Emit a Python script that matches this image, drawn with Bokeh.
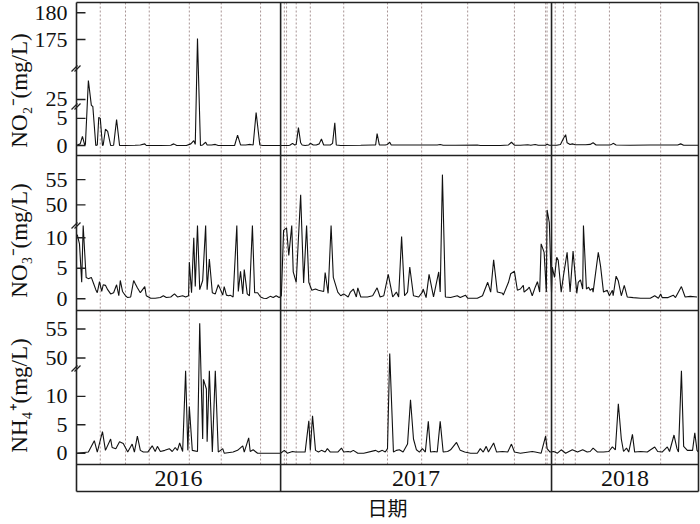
import numpy as np
import pandas as pd
from bokeh.plotting import figure
from bokeh.models import Range1d, ColumnDataSource
from bokeh.embed import file_html
from bokeh.resources import INLINE
from bokeh.core.properties import value

# ---------------- data ----------------
START = "2016-04-01"   # day 0 of the record
END = "2018-07-18"

# NO2- (mg/L): sampling day (days since START) and concentration
no2_day = [1, 5, 8, 11, 12, 16, 20, 22, 26, 28, 30, 32, 35, 36, 39, 42, 46, 50, 54, 58,
           66, 79, 86, 92, 94, 113, 127, 131, 135, 148, 154, 158, 160, 163, 167, 170, 174, 176,
           182, 187, 191, 213, 217, 221, 228, 234, 238, 242, 247, 251, 275, 286, 288, 291, 294,
           296, 299, 302, 304, 308, 313, 315, 319, 323, 327, 330, 333, 342, 345, 348, 350, 356,
           383, 399, 403, 405, 408, 416, 419, 422, 424, 436, 450, 463, 486, 490, 494, 511, 540,
           544, 571, 582, 586, 590, 598, 608, 612, 618, 622, 632, 634, 637, 647, 652, 656, 659,
           661, 665, 668, 672, 686, 692, 696, 700, 718, 721, 723, 727, 746, 773, 800, 810, 814,
           818, 838]
no2_val = [0.1, 0.3, 1.7, 0.1, 0.2, 28.5, 23.9, 23.7, 0.0, 0.1, 5.2, 5.0, 0.0, 0.1, 3.0, 2.6, 0.0, 0.05, 4.8, 0.0,
           0.0, 0.05, 0.1, 0.3, 0.0, 0.0, 0.05, 0.3, 0.0, 0.0, 0.3, 0.9, 0.2, 175.2, 0.0, 0.1, 0.6, 0.1,
           0.1, 0.2, 0.0, 0.0, 1.9, 0.1, 0.1, 0.2, 0.1, 6.1, 0.1, 0.0, 0.0, 0.0, 0.1, 0.4, 0.1,
           0.2, 3.3, 0.5, 0.1, 0.0, 0.1, 0.4, 0.1, 0.1, 0.3, 1.2, 0.1, 0.1, 0.4, 4.2, 0.1, 0.0,
           0.05, 0.1, 0.1, 2.2, 0.1, 0.1, 0.2, 0.6, 0.1, 0.1, 0.1, 0.1, 0.1, 0.2, 0.05, 0.05, 0.1,
           0.0, 0.0, 0.1, 0.6, 0.05, 0.05, 0.15, 0.05, 0.2, 0.05, 0.05, 0.25, 0.05, 0.05, 0.2, 1.3, 2.0,
           0.5, 0.2, 0.3, 0.15, 0.15, 0.2, 0.5, 0.1, 0.1, 0.2, 0.4, 0.1, 0.05, 0.1, 0.1, 0.1, 0.3,
           0.05, 0.05]

# NO3- (mg/L)
no3_day = [1, 4, 7, 9, 12, 13, 16, 20, 23, 26, 28, 31, 34, 36, 39, 42, 46, 50, 54, 57,
           59, 62, 66, 69, 73, 77, 79, 82, 86, 89, 92, 94, 97, 100, 106, 113, 117, 121, 127, 132,
           136, 143, 147, 151, 152, 155, 158, 160, 163, 166, 170, 174, 176, 179, 183, 187, 191, 194, 197, 199,
           202, 205, 207, 211, 216, 218, 221, 224, 226, 230, 233, 237, 240, 244, 248, 252, 256, 261, 265, 269,
           273, 276, 279, 283, 286, 290, 292, 296, 302, 306, 310, 313, 317, 322, 326, 333, 335, 339, 343, 346,
           352, 356, 360, 366, 369, 373, 377, 379, 383, 392, 399, 405, 409, 414, 420, 426, 431, 434, 438, 442,
           446, 449, 454, 461, 466, 467, 471, 475, 481, 488, 490, 493, 497, 504, 513, 517, 524, 527, 540, 547,
           554, 558, 562, 567, 574, 575, 582, 585, 590, 594, 598, 602, 603, 608, 610, 614, 618, 621, 624, 626,
           630, 633, 634, 637, 640, 641, 644, 647, 649, 653, 656, 661, 665, 669, 674, 676, 679, 682, 683, 687,
           690, 692, 695, 696, 703, 706, 710, 715, 718, 722, 723, 727, 730, 734, 738, 742, 750, 760, 773, 779,
           784, 787, 789, 797, 804, 807, 815, 820, 827, 836]
no3_val = [10.5, 9.0, 2.7, 12.2, 5.5, 3.5, 3.3, 3.5, 2.5, 1.5, 1.0, 2.8, 1.2, 2.3, 2.2, 1.5, 0.8, 1.0, 2.3, 0.5,
           3.0, 1.2, 0.5, 0.2, 0.3, 3.0, 2.5, 1.8, 1.0, 1.5, 2.0, 0.5, 0.3, 0.1, 0.1, 0.2, 0.5, 0.2, 0.3, 0.8,
           0.3, 0.5, 0.3, 0.5, 6.0, 1.0, 10.0, 2.0, 12.2, 1.5, 3.0, 12.2, 1.5, 6.5, 1.0, 0.8, 2.3, 1.5, 0.6, 2.0,
           0.6, 0.5, 0.6, 0.3, 12.2, 1.2, 4.5, 0.8, 4.8, 0.8, 0.5, 12.2, 1.0, 1.0, 0.3, 0.1, 0.05, 0.4, 0.2, 0.5,
           0.2, 0.5, 11.2, 11.6, 7.1, 12.2, 4.4, 2.7, 52.0, 2.6, 12.2, 2.7, 1.4, 1.6, 1.4, 1.2, 4.3, 0.9, 12.2, 3.5,
           1.1, 0.5, 0.8, 0.3, 1.1, 1.6, 0.3, 1.8, 0.3, 0.3, 0.5, 1.8, 0.3, 0.5, 4.0, 0.3, 1.1, 0.3, 10.2, 0.5,
           1.1, 5.2, 0.5, 0.3, 1.1, 1.6, 0.2, 4.0, 0.3, 4.4, 1.1, 56.0, 0.3, 0.2, 0.5, 0.2, 0.6, 0.1, 0.1, 0.5,
           2.7, 1.1, 6.4, 1.1, 0.9, 0.6, 2.7, 4.1, 4.5, 1.4, 1.6, 2.2, 1.1, 1.6, 1.9, 0.5, 1.9, 2.8, 1.1, 9.0,
           7.6, 1.1, 49.0, 46.5, 1.0, 5.2, 3.5, 6.8, 6.3, 1.1, 3.7, 7.6, 1.1, 7.8, 0.9, 2.7, 3.1, 1.6, 12.2, 1.6,
           1.9, 1.4, 1.7, 1.1, 7.6, 5.4, 1.1, 1.4, 0.5, 1.4, 0.5, 3.7, 2.9, 0.5, 2.2, 0.3, 0.2, 0.1, 0.1, 0.5,
           0.1, 0.8, 0.2, 0.2, 0.6, 0.2, 2.0, 0.3, 0.4, 0.3]

# NH4+ (mg/L)
nh4_day = [1, 16, 24, 28, 35, 39, 46, 48, 53, 58, 63, 69, 75, 78, 82, 86, 90, 96, 102, 106,
           109, 113, 119, 125, 129, 133, 136, 139, 143, 147, 150, 152, 156, 163, 166, 170, 171, 175, 176, 179,
           183, 187, 191, 197, 199, 211, 217, 224, 226, 232, 234, 238, 244, 275, 280, 284, 291, 295, 308, 313,
           315, 318, 322, 326, 330, 335, 338, 342, 352, 357, 360, 366, 369, 373, 379, 387, 403, 407, 412, 416,
           419, 422, 427, 431, 435, 440, 446, 450, 454, 458, 462, 466, 470, 474, 477, 482, 486, 490, 494, 500,
           504, 512, 517, 523, 531, 540, 544, 548, 552, 555, 562, 566, 574, 581, 586, 590, 598, 614, 618, 626,
           632, 634, 638, 643, 648, 653, 659, 668, 675, 682, 688, 692, 696, 702, 710, 717, 722, 726, 730, 734,
           737, 741, 744, 749, 752, 760, 769, 779, 783, 789, 796, 799, 805, 809, 811, 815, 818, 823, 830, 833,
           836, 838]
nh4_val = [0.0, 0.2, 2.2, 0.2, 3.8, 0.5, 2.5, 1.0, 0.8, 2.0, 1.7, 0.2, 1.6, 0.2, 3.0, 0.5, 0.2, 0.2, 1.3, 0.3,
           1.2, 0.3, 0.5, 0.8, 0.3, 1.0, 0.5, 1.8, 0.3, 14.5, 0.5, 8.2, 0.5, 0.3, 56.0, 2.5, 13.0, 11.3, 2.0, 14.5,
           0.2, 14.5, 0.2, 0.8, 0.0, 0.2, 0.5, 1.3, 0.2, 2.7, 0.3, 0.6, 0.0, 0.0, 0.5, 0.0, 0.3, 0.2, 0.2, 5.7,
           0.5, 6.6, 0.5, 0.2, 0.5, 0.2, 0.8, 0.2, 0.2, 0.9, 0.2, 0.3, 0.2, 0.5, 0.0, 0.0, 0.5, 0.2, 0.5, 0.2,
           0.8, 50.8, 0.2, 0.5, 0.6, 0.2, 1.6, 9.4, 2.5, 0.6, 0.2, 0.8, 0.2, 5.6, 0.2, 0.3, 0.2, 5.6, 0.2, 0.3,
           0.6, 1.9, 0.5, 0.2, 0.0, 0.0, 0.8, 0.2, 1.2, 0.2, 1.8, 0.2, 0.3, 0.2, 1.6, 0.2, 0.0, 0.3, 0.2, 0.0,
           3.0, 0.8, 0.2, 0.3, 0.0, 0.6, 0.0, 0.6, 0.2, 0.6, 0.2, 0.3, 0.9, 0.2, 0.2, 0.3, 1.1, 0.6, 8.7, 2.5,
           0.3, 0.9, 0.2, 3.3, 0.2, 0.3, 0.2, 1.1, 0.3, 0.2, 1.1, 0.3, 3.2, 0.8, 0.2, 14.5, 1.2, 0.5, 0.5, 3.6,
           0.5, 0.2]

# field campaign days (vertical dotted lines), days since START
campaign_day = [32, 66, 98, 152, 195, 248, 280, 283, 296, 315, 360, 419, 465, 527, 590,
                632, 634, 645, 656, 672, 718, 787]

years = ["2016", "2017", "2018"]
year_from = ["2016-04-01", "2017-01-01", "2018-01-01"]
year_to = ["2017-01-01", "2018-01-01", "2018-07-18"]

no2_ticks = [0, 5, 25, 175, 180]
no3_ticks = [0, 5, 10, 50, 55]
nh4_ticks = [0, 5, 10, 50, 55]

ylabels = ["NO\u2082\u207b(mg/L)", "NO\u2083\u207b(mg/L)", "NH\u2084\u207a(mg/L)"]
xlabel = "日期"

# ---------------- layout (pixels of the drawing) ----------------
W, H = 700, 524
L, R = 76, 698               # plot area left / right
TOP, BAND_TOP, BOT = 2, 464, 491
panel_edges = [2, 155, 310, 464]

# broken-axis scales: value anchors -> vertical position
scales = [
    ([0, 7.2, 23.7, 30.7, 169.6, 181.9], [145, 106, 106, 68, 68, 2]),
    ([0, 12.0, 45.9, 59.8], [298.3, 225, 225, 155]),
    ([0, 14.9, 48.2, 58.2], [452.7, 368, 368, 310]),
]
breaks = [[106, 68], [225], [368]]
label_centers = [90, 240, 395]


def ypos(vals, k):
    xs_, ys_ = scales[k]
    return -np.interp(np.asarray(vals, dtype=float), xs_, ys_)


t0 = pd.Timestamp(START)
t1 = pd.Timestamp(END)
span = (t1 - t0) / pd.Timedelta(days=1)
ppd = (R - L) / span
xs = t0 - pd.Timedelta(days=L / ppd)
xe = t1 + pd.Timedelta(days=(W - R) / ppd)


def to_dt(days):
    return t0 + pd.to_timedelta(np.asarray(days, dtype=float), unit="D")


p = figure(width=W, height=H, x_range=Range1d(xs, xe), y_range=Range1d(-H, 0),
           x_axis_type="datetime", x_axis_location=None, y_axis_location=None,
           output_backend="svg", toolbar_location=None, min_border=0,
           outline_line_color=None, background_fill_color="white")
p.grid.grid_line_color = None
p.extra_x_ranges = {"px": Range1d(0, W)}

SERIF = value("Liberation Serif")

# dotted campaign lines
cd = to_dt(campaign_day)
p.segment(x0=cd, x1=cd, y0=[-TOP] * len(cd), y1=[-BAND_TOP] * len(cd),
          line_color="#a89494", line_dash="2 2", line_width=1)

# series
for k, (d, v) in enumerate([(no2_day, no2_val), (no3_day, no3_val), (nh4_day, nh4_val)]):
    src = ColumnDataSource(dict(x=to_dt(d), y=ypos(v, k)))
    p.line("x", "y", source=src, line_color="#111111", line_width=1.1)

# frame
hy = [-y for y in panel_edges] + [-BOT]
p.segment(x0=[L] * len(hy), x1=[R] * len(hy), y0=hy, y1=hy, line_color="#222222",
          line_width=1.6, x_range_name="px")
p.segment(x0=[L, R], x1=[L, R], y0=[-TOP, -TOP], y1=[-BOT, -BOT], line_color="#222222",
          line_width=1.6, x_range_name="px")

# year dividers
yd = to_dt([(pd.Timestamp(s) - t0).days for s in year_from[1:]])
p.segment(x0=yd, x1=yd, y0=[-TOP] * 2, y1=[-BOT] * 2, line_color="#222222", line_width=1.6)

# ticks, tick labels, break marks, axis labels
for k, ticks in enumerate([no2_ticks, no3_ticks, nh4_ticks]):
    ty = ypos(ticks, k)
    p.segment(x0=[L] * len(ty), x1=[L + 9] * len(ty), y0=ty, y1=ty, line_color="#222222",
              line_width=1.4, x_range_name="px")
    p.text(x=[L - 9] * len(ty), y=ty, text=[str(t) for t in ticks], text_font=SERIF,
           text_font_size="22px", text_align="right", text_baseline="middle",
           text_color="#111111", x_range_name="px")
    for b in breaks[k]:
        p.segment(x0=[L - 5, L - 2], x1=[L + 1, L + 4], y0=[-(b + 3), -(b + 3)],
                  y1=[-(b - 3), -(b - 3)], line_color="#222222", line_width=1.3,
                  x_range_name="px")
    p.text(x=[19], y=[-label_centers[k]], text=[ylabels[k]], angle=np.pi / 2,
           text_font=SERIF, text_font_size="23px", text_align="center",
           text_baseline="middle", text_color="#111111", x_range_name="px")

# year labels
mid = [pd.Timestamp(a) + (pd.Timestamp(b) - pd.Timestamp(a)) / 2 for a, b in zip(year_from, year_to)]
p.text(x=mid, y=[-478] * 3, text=years, text_font=SERIF, text_font_size="24px",
       text_align="center", text_baseline="middle", text_color="#111111")

# x label
p.text(x=[(L + R) / 2], y=[-507], text=[xlabel], text_font=value("Noto Sans CJK SC"),
       text_font_size="20px", text_align="center", text_baseline="middle",
       text_color="#111111", x_range_name="px")

open("out.html", "w").write(file_html(p, INLINE))
